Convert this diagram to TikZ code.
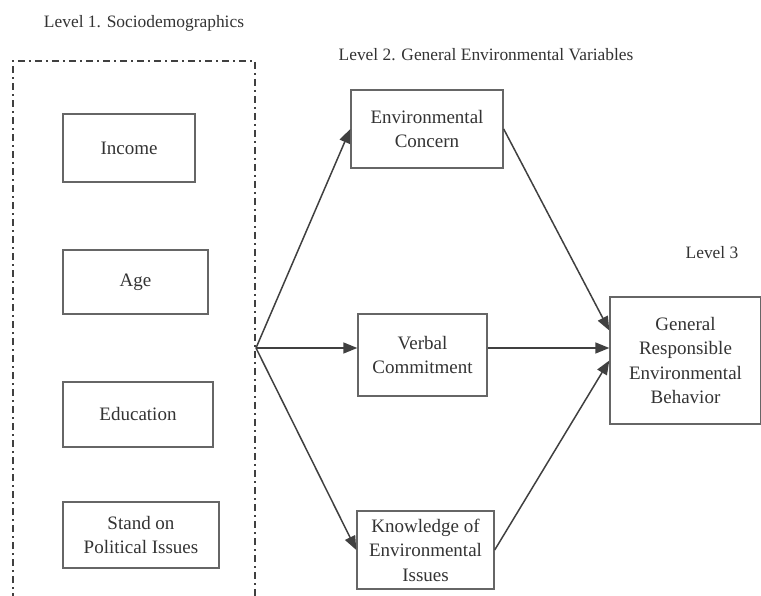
\documentclass[tikz,border=0pt]{standalone}
\usepackage{fontspec}
\setmainfont{Liberation Serif}
\usetikzlibrary{arrows.meta}
\begin{document}
\begin{tikzpicture}[x=1pt,y=-1pt]
    \tikzstyle{box}=[draw=black!60, line width=1.4pt, text=black!80, align=center, inner sep=0pt, font=\fontsize{19}{24.5}\selectfont]
    \tikzstyle{level}=[text=black!80, font=\fontsize{17.4}{20}\selectfont]
    \tikzstyle{link}=[draw=black!75, line width=1.5pt, -{Triangle[length=14pt,width=11pt]}]
    \useasboundingbox (0,0) rectangle (761,596);
    % level 1
    \node[level] (lvlone) at (144,23){Level 1. Sociodemographics};
    \draw[black!75, line width=2pt, dash pattern=on 7pt off 4pt on 2pt off 4pt] (13,600) -- (13,61) -- (255,61) -- (255,600);
    \node[box, minimum width=132pt, minimum height=68pt] (income) at (129,148){Income};
    \node[box, minimum width=145pt, minimum height=64pt] (age) at (135.5,282){Age};
    \node[box, minimum width=150pt, minimum height=65pt] (edu) at (138,414.5){Education};
    \node[box, minimum width=156pt, minimum height=66pt] (stand) at (141,535){Stand on\\Political Issues};
    \coordinate (hub) at (256,348);
    % level 2
    \node[level] (lvltwo) at (486,55){Level 2. General Environmental Variables};
    \node[box, minimum width=152pt, minimum height=78pt] (envc) at (427,129){Environmental\\Concern};
    \node[box, minimum width=129pt, minimum height=82pt] (verbal) at (422.5,355){Verbal\\Commitment};
    \node[box, minimum width=137pt, minimum height=78pt] (know) at (425.5,550){Knowledge of\\Environmental\\Issues};
    % level 3
    \node[level] (lvlthree) at (712,253){Level 3};
    \node[box, minimum width=151pt, minimum height=127pt] (greb) at (685.5,360.5){General\\Responsible\\Environmental\\Behavior};
    % arrows
    \draw[link] (hub) -- (envc.west);
    \draw[link] (hub) -- (verbal.west |- hub);
    \draw[link] (hub) -- (know.west);
    \draw[link] (envc.east) -- ([yshift=30pt]greb.west);
    \draw[link] (verbal.east |- hub) -- (greb.west |- hub);
    \draw[link] (know.east) -- (greb.west);
    %\draw (hub) circle (2);
\end{tikzpicture}
\end{document}
